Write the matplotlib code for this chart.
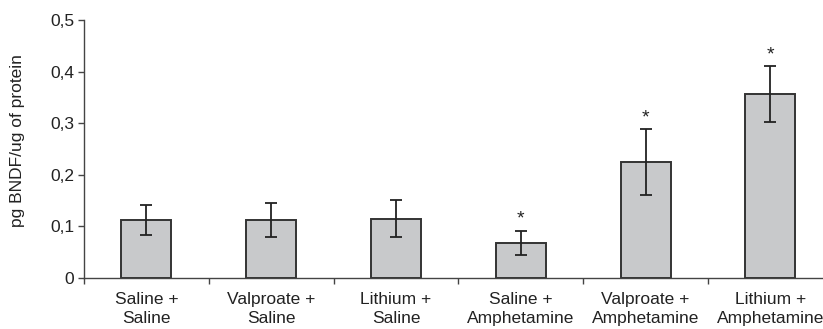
import matplotlib
matplotlib.use("Agg")
import matplotlib.pyplot as plt
import numpy as np

plt.rcParams['font.family'] = ['Liberation Sans', 'DejaVu Sans']

groups = ["Saline +\nSaline", "Valproate +\nSaline", "Lithium +\nSaline",
          "Saline +\nAmphetamine", "Valproate +\nAmphetamine", "Lithium +\nAmphetamine"]
bdnf = [0.112, 0.113, 0.115, 0.068, 0.225, 0.357]
sem = [0.029, 0.033, 0.036, 0.024, 0.064, 0.054]
significant = [False, False, False, True, True, True]
yticks = [0, 0.1, 0.2, 0.3, 0.4, 0.5]
ytick_labels = ["0", "0,1", "0,2", "0,3", "0,4", "0,5"]

W, H = 823, 329
fig = plt.figure(figsize=(W / 100, H / 100), dpi=100)
cat_w = 124.8
ax_w = 6 * cat_w
ax = fig.add_axes([84 / W, 51 / H, ax_w / W, 258 / H])

x = np.arange(len(groups)) + 0.5
text_col = "#222222"
axis_col = "#444444"
fs = 12.5

ax.bar(x, bdnf, width=0.40, color="#c8c9cb", edgecolor="#333333", linewidth=1.4, zorder=2)
ax.errorbar(x, bdnf, yerr=sem, fmt="none", ecolor="#222222", elinewidth=1.3,
            capsize=4.5, capthick=1.3, zorder=3)

for xi, v, e, s in zip(x, bdnf, sem, significant):
    if s:
        ax.annotate("*", xy=(xi, v + e), xytext=(0, 2), textcoords="offset points",
                    ha="center", va="bottom", fontsize=14, color=text_col)

ax.set_xlim(0, len(groups))
ax.set_ylim(0, 0.5)
ax.set_yticks(yticks)
ax.set_yticklabels(ytick_labels)
ax.set_xticks(np.arange(len(groups)))
ax.set_xticklabels([])
ax.set_xticks(x, minor=True)
ax.set_xticklabels(groups, minor=True, fontsize=fs, color=text_col, linespacing=1.32)
ax.tick_params(axis="x", which="minor", length=0, pad=10)
ax.tick_params(axis="x", which="major", length=4, width=1, color=axis_col)
ax.tick_params(axis="y", length=4, width=1, color=axis_col, labelsize=fs, labelcolor=text_col, pad=3)

for side in ("top", "right"):
    ax.spines[side].set_visible(False)
for side in ("left", "bottom"):
    ax.spines[side].set_color(axis_col)
    ax.spines[side].set_linewidth(1.0)

ax.set_ylabel("pg BNDF/ug of protein", fontsize=fs, color=text_col)
ax.yaxis.set_label_coords((25 - 84) / ax_w, 0.531)

fig.savefig("out.png", dpi=100)
